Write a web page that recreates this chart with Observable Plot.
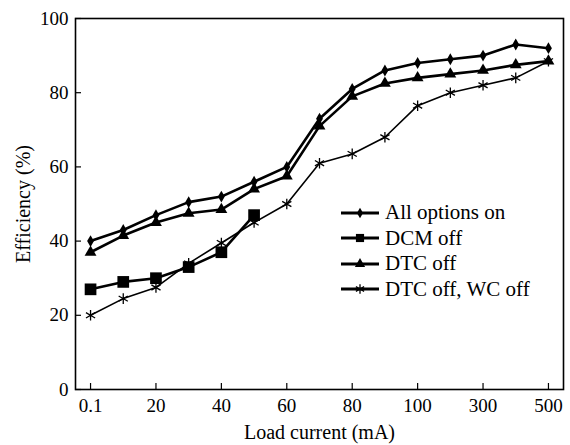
<!DOCTYPE html>
<html>
<head>
<meta charset="utf-8">
<script src="https://cdn.jsdelivr.net/npm/d3@7"></script>
<script src="https://cdn.jsdelivr.net/npm/@observablehq/plot@0.6"></script>
<style>
  html, body { margin: 0; padding: 0; background: #fff; }
  #wrap { position: relative; width: 570px; height: 445px; }
  #legend { position: absolute; left: 340px; top: 200px; font-family: "Liberation Serif", serif; font-size: 21px; color: #000; }
  #legend .row { display: flex; align-items: center; height: 25.5px; }
  #legend svg { margin-right: 5px; }
</style>
</head>
<body>
<div id="wrap"></div>
<script>
const loadLabels = ["0.1","10","20","30","40","50","60","70","80","90","100","200","300","400","500"];
const tickLabels = ["0.1","20","40","60","80","100","300","500"];
const yTicks = [0, 20, 40, 60, 80, 100];

const allOptionsOn = [40, 43, 47, 50.5, 52, 56, 60, 73, 81, 86, 88, 89, 90, 93, 92];
const dcmOff       = [27, 29, 30, 33, 37, 47];
const dtcOff       = [37, 41.5, 45, 47.5, 48.5, 54, 57.5, 71, 79, 82.5, 84, 85, 86, 87.5, 88.5];
const dtcWcOff     = [20, 24.5, 27.5, 34, 39.5, 45, 50, 61, 63.5, 68, 76.5, 80, 82, 84, 88.5];

const seriesNames = ["All options on", "DCM off", "DTC off", "DTC off, WC off"];

const rows = (vals) => vals.map((v, i) => ({x: loadLabels[i], y: v}));
const sAll = rows(allOptionsOn), sDcm = rows(dcmOff), sDtc = rows(dtcOff), sWc = rows(dtcWcOff);

const W = 570, H = 445, mL = 75, mR = 7, mT = 18, mB = 56;
const frameW = W - mL - mR, frameH = H - mT - mB, tickLen = 6;

const font = "Liberation Serif";
const chart = Plot.plot({
  width: W, height: H,
  marginLeft: mL, marginRight: mR, marginTop: mT, marginBottom: mB,
  style: {fontFamily: font, fontSize: "19px", background: "#fff", color: "#000"},
  x: {type: "point", domain: loadLabels, padding: 0.46, round: false},
  y: {domain: [0, 100]},
  marks: [
    Plot.tickX(tickLabels, {x: d => d, insetTop: frameH - tickLen, stroke: "#000", strokeWidth: 1.2}),
    Plot.tickY(yTicks, {y: d => d, insetRight: frameW - tickLen, stroke: "#000", strokeWidth: 1.2}),
    Plot.line(sWc, {x: "x", y: "y", stroke: "#000", strokeWidth: 1.6}),
    Plot.dot(sWc, {x: "x", y: "y", symbol: "asterisk", r: 5, stroke: "#000", strokeWidth: 1.3, fill: "none"}),
    Plot.line(sDcm, {x: "x", y: "y", stroke: "#000", strokeWidth: 2.6}),
    Plot.dot(sDcm, {x: "x", y: "y", symbol: "square", r: 6.6, fill: "#000", stroke: "none"}),
    Plot.line(sDtc, {x: "x", y: "y", stroke: "#000", strokeWidth: 2.6}),
    Plot.dot(sDtc, {x: "x", y: "y", symbol: "triangle", r: 4.4, fill: "#000", stroke: "none"}),
    Plot.line(sAll, {x: "x", y: "y", stroke: "#000", strokeWidth: 2.6}),
    Plot.dot(sAll, {x: "x", y: "y", symbol: "diamond", r: 3.6, fill: "#000", stroke: "none"}),
    Plot.frame({stroke: "#000", strokeWidth: 1.6}),
    Plot.axisX({ticks: tickLabels, tickSize: 0, tickPadding: 9, fontSize: 19, label: null}),
    Plot.axisX({ticks: [], tickSize: 0, label: "Load current (mA)", labelAnchor: "center", labelArrow: "none", labelOffset: 49, fontSize: 20}),
    Plot.axisY({ticks: yTicks, tickSize: 0, tickPadding: 7, fontSize: 19, label: null}),
    Plot.axisY({ticks: [], tickSize: 0, label: "Efficiency (%)", labelAnchor: "center", labelArrow: "none", labelOffset: 60, fontSize: 20})
  ]
});
const wrap = document.getElementById("wrap");
wrap.appendChild(chart);

// legend
const symbols = ["diamond", "square", "triangle", "asterisk"];
const symMap = {diamond: d3.symbolDiamond, square: d3.symbolSquare, triangle: d3.symbolTriangle, asterisk: d3.symbolAsterisk};
const symR = {diamond: 3.2, square: 4.6, triangle: 3.8, asterisk: 4.5};
const leg = document.createElement("div");
leg.id = "legend";
seriesNames.forEach((name, i) => {
  const row = document.createElement("div");
  row.className = "row";
  const s = symbols[i];
  const path = d3.symbol(symMap[s], Math.PI * symR[s] * symR[s])();
  const filled = s !== "asterisk";
  row.innerHTML = `<svg width="40" height="14" viewBox="0 0 40 14"><line x1="1" x2="39" y1="7" y2="7" stroke="#000" stroke-width="2.8"/><path transform="translate(20,7)" d="${path}" fill="${filled ? '#000' : 'none'}" stroke="${filled ? 'none' : '#000'}" stroke-width="1.3"/></svg><span>${name}</span>`;
  leg.appendChild(row);
});
wrap.appendChild(leg);
</script>
</body>
</html>
